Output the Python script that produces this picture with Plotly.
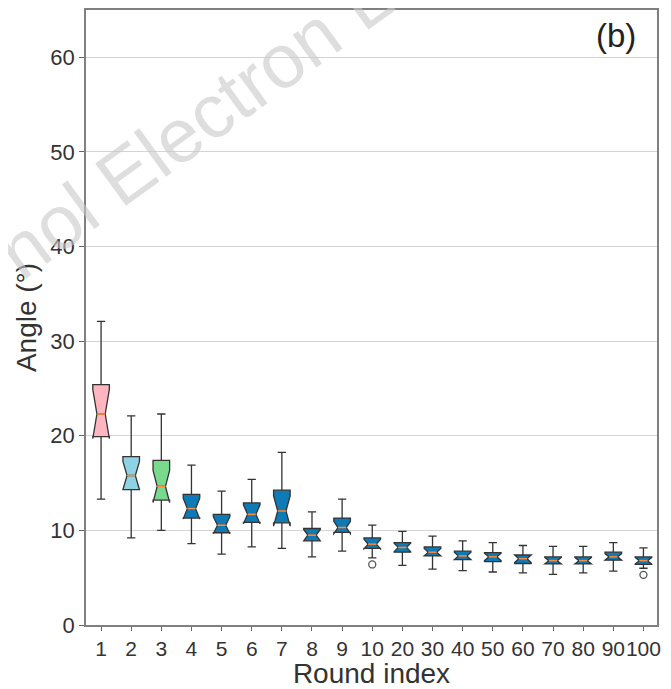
import plotly.graph_objects as go

labels = ["1", "2", "3", "4", "5", "6", "7", "8", "9", "10",
          "20", "30", "40", "50", "60", "70", "80", "90", "100"]
lower = [13.3, 9.2, 10.0, 8.6, 7.5, 8.25, 8.1, 7.2, 7.8, 7.1,
         6.3, 5.9, 5.75, 5.6, 5.5, 5.35, 5.5, 5.7, 6.0]
q1 = [19.9, 14.3, 13.2, 11.3, 9.75, 10.85, 10.8, 8.9, 9.8, 8.1,
      7.7, 7.3, 6.9, 6.7, 6.5, 6.45, 6.45, 6.85, 6.4]
median = [22.3, 15.8, 14.65, 12.3, 10.55, 11.7, 12.05, 9.5, 10.3, 8.55,
          8.2, 7.7, 7.3, 7.2, 7.0, 6.8, 6.8, 7.2, 6.8]
q3 = [25.4, 17.8, 17.4, 13.8, 11.7, 12.9, 14.25, 10.2, 11.3, 9.2,
      8.7, 8.25, 7.8, 7.65, 7.4, 7.2, 7.2, 7.7, 7.2]
upper = [32.1, 22.1, 22.3, 16.9, 14.15, 15.4, 18.25, 11.95, 13.3, 10.55,
         9.9, 9.4, 8.9, 8.7, 8.4, 8.3, 8.3, 8.7, 8.15]
notch = [2.6, 1.5, 1.7, 1.1, 0.9, 1.0, 1.6, 0.6, 0.65, 0.5,
         0.45, 0.4, 0.4, 0.4, 0.4, 0.35, 0.35, 0.35, 0.35]
outlier_labels = ["10", "100"]
outlier_values = [6.4, 5.3]

box_colors = ["#ffb6c1", "#8dd3e4", "#79d98c"] + ["#0f7bb6"] * 16

BOX_W = 0.55
NOTCH_W = 0.25
FONT = "Liberation Sans, Arial, sans-serif"

fig = go.Figure()
for i, lab in enumerate(labels):
    fig.add_trace(go.Box(
        x=[i], q1=[q1[i]], median=[median[i]], q3=[q3[i]],
        lowerfence=[lower[i]], upperfence=[upper[i]],
        notched=True, notchspan=[notch[i]], notchwidth=NOTCH_W,
        width=BOX_W, whiskerwidth=0.5,
        fillcolor=box_colors[i],
        line=dict(color="#333333", width=1.3),
        boxpoints=False, showlegend=False, hoverinfo="skip",
    ))
    half = BOX_W / 2 * (1 - 2 * NOTCH_W)
    fig.add_trace(go.Scatter(
        x=[i - half, i + half], y=[median[i], median[i]],
        mode="lines", line=dict(color="#ff8c3a", width=1.6),
        showlegend=False, hoverinfo="skip",
    ))

fig.add_trace(go.Scatter(
    x=[labels.index(l) for l in outlier_labels], y=outlier_values,
    mode="markers",
    marker=dict(symbol="circle-open", size=7, color="#555555",
                line=dict(width=1.3, color="#555555")),
    showlegend=False, hoverinfo="skip",
))

# page body adds an 8px offset; figure sized to fit the remaining window
fig.update_layout(
    width=663, height=681,
    margin=dict(l=78, r=14, t=2, b=64, autoexpand=False),
    paper_bgcolor="white", plot_bgcolor="white",
    font=dict(family=FONT, color="#333333"),
    boxmode="overlay",
    xaxis=dict(
        range=[-0.5, 18.45], automargin=False,
        tickmode="array", tickvals=list(range(len(labels))), ticktext=labels,
        tickangle=0,
        ticks="outside", ticklen=4, tickcolor="#666666",
        tickfont=dict(size=21, color="#333333"),
        showgrid=False, zeroline=False,
        showline=True, linecolor="#808080", linewidth=1.5, mirror=True,
        title=dict(text="Round index", font=dict(size=28, color="#333333"), standoff=0),
    ),
    yaxis=dict(
        range=[0, 65], tickvals=[0, 10, 20, 30, 40, 50, 60], automargin=False,
        ticks="outside", ticklen=5, tickcolor="#666666",
        tickfont=dict(size=22, color="#333333"),
        showgrid=True, gridcolor="#d4d4d4", gridwidth=1, zeroline=False,
        showline=True, linecolor="#808080", linewidth=1.5, mirror=True,
        title=dict(text="Angle (°)", font=dict(size=28, color="#333333"), standoff=6),
    ),
    annotations=[
        dict(text="(b)", xref="paper", yref="paper", x=0.928, y=0.958,
             xanchor="center", yanchor="middle", showarrow=False,
             font=dict(size=33, color="#222222", family=FONT)),
        dict(text="nol Electron L", xref="paper", yref="paper", x=0.19, y=0.815,
             xanchor="center", yanchor="middle", showarrow=False, textangle=-36,
             font=dict(size=76, color="rgba(200,200,200,0.6)", family=FONT)),
    ],
)

fig.write_html("out.html")
